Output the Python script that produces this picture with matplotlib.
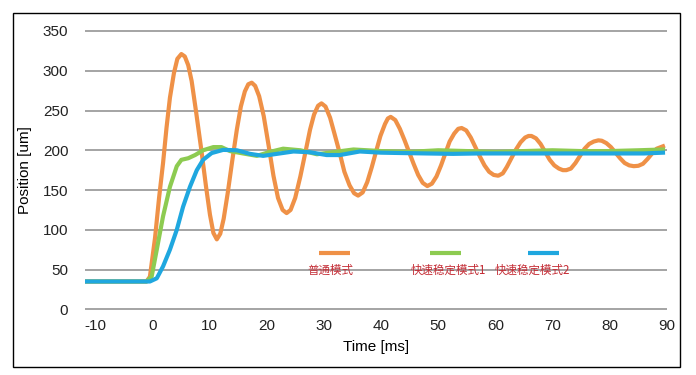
import matplotlib.pyplot as plt
from matplotlib.patches import Rectangle

# series (time in ms, position in um)
normal_t = [-11.75, -1.0, -0.4, 0.5, 1.2, 1.9, 2.5, 3.1, 3.8, 4.4, 5.1, 5.7, 6.3, 6.9, 7.7,
            8.6, 9.4, 10.1, 10.7, 11.3, 11.9, 12.5, 13.2, 14.0, 14.8, 15.5, 16.2, 16.8, 17.4,
            18.0, 18.7, 19.5, 20.4, 21.2, 22.0, 22.8, 23.5, 24.2, 25.0, 25.9, 26.8, 27.6,
            28.3, 29.0, 29.6, 30.3, 31.1, 31.9, 32.8, 33.6, 34.5, 35.3, 36.0, 36.8, 37.6,
            38.4, 39.2, 39.9, 40.7, 41.2, 41.7, 42.5, 43.3, 44.1, 44.9, 45.7, 46.5, 47.3,
            48.1, 48.9, 49.7, 50.5, 51.3, 52.0, 52.8, 53.5, 54.1, 54.9, 55.7, 56.5, 57.3,
            58.1, 58.9, 59.7, 60.5, 61.3, 62.0, 62.8, 63.6, 64.4, 65.2, 65.8, 66.3, 67.1,
            67.9, 68.7, 69.5, 70.3, 71.1, 71.8, 72.4, 73.2, 74.0, 74.8, 75.6, 76.4, 77.2,
            78.0, 78.6, 79.4, 80.2, 81.0, 81.8, 82.6, 83.4, 84.2, 85.0, 85.8, 86.6, 87.4,
            88.2, 89.3]
normal_y = [35, 35, 41, 90, 140, 184, 228, 266, 297, 315, 321, 318, 307, 287, 247,
            200, 155, 119, 96, 88, 95, 114, 146, 187, 226, 255, 274, 283, 285,
            281, 268, 243, 204, 168, 140, 125, 121, 125, 140, 167, 198, 226,
            245, 256, 259, 255, 241, 220, 196, 173, 156, 146, 143, 147, 160,
            179, 200, 218, 233, 240, 242, 238, 227, 213, 198, 183, 169, 159,
            155, 158, 167, 181, 197, 211, 221, 227, 228, 225, 216, 204, 192,
            181, 173, 169, 168, 171, 179, 190, 201, 210, 216, 218, 218, 215,
            208, 198, 188, 181, 177, 175, 175, 177, 184, 193, 202, 208, 211,
            212.5, 212, 209, 204, 197, 190, 184, 181, 180, 180.5, 183, 189, 196,
            202, 205]

fast1_t = [-11.75, -1.0, -0.1, 0.8, 1.9, 3.1, 4.3, 5.1, 6.3, 7.5, 8.9, 10.7, 12.1, 13.6,
           15.9, 18.3, 20.6, 22.9, 25.9, 28.8, 32.0, 35.2, 40.0, 45.0, 50.0, 55.0, 60.0,
           65.0, 70.0, 75.0, 80.0, 85.0, 89.3]
fast1_y = [35, 35, 41, 75, 117, 154, 180, 188, 190, 194, 200, 204, 204, 199,
           196, 193, 198, 202, 200, 195, 198, 201, 199, 198, 200, 199, 198,
           199, 200, 199, 199, 200, 201]

fast2_t = [-11.75, -0.4, 0.8, 1.9, 3.1, 4.3, 5.4, 6.6, 7.8, 8.9, 10.4, 12.4, 14.8, 17.1,
           19.4, 21.8, 24.7, 27.6, 30.5, 32.8, 36.3, 40.0, 43.8, 48.0, 52.6, 57.0, 62.0,
           67.0, 72.0, 77.0, 82.0, 86.0, 89.3]
fast2_y = [35, 35, 39, 54, 75, 100, 129, 154, 175, 188, 196.5, 200.5, 200, 195.5,
           193, 195.5, 198.5, 197.5, 194, 194, 198.5, 197, 196.5, 196, 195.5, 196, 196,
           196, 196, 196, 196, 196, 197]

x_ticks = list(range(-10, 91, 10))
y_ticks = list(range(0, 351, 50))

ORANGE = '#ef9147'
GREEN = '#8dcb51'
BLUE = '#1fa7df'
RED_TXT = '#c42b34'

plt.rcParams['font.family'] = ['Liberation Sans', 'DejaVu Sans']

fig = plt.figure(figsize=(6.96, 3.75), dpi=100)
ax = fig.add_axes([0.1221, 0.1688, 0.8362, 0.7549])

# outer frame around the whole chart
fig.patches.append(Rectangle((0.0187, 0.0213), 0.9583, 0.944, transform=fig.transFigure,
                             fill=False, edgecolor='black', linewidth=1.0))

ax.set_xlim(-11.75, 90)
ax.set_ylim(-3, 353)
ax.set_xticks(x_ticks)
ax.set_yticks(y_ticks)
ax.set_xticklabels([str(v) for v in x_ticks])
ax.tick_params(axis='both', length=0, labelsize=11, colors='#222222')
ax.tick_params(axis='x', pad=5)
ax.tick_params(axis='y', pad=12)
for s in ax.spines.values():
    s.set_visible(False)
ax.grid(axis='y', color='#8c8c8c', linewidth=1.1)
ax.set_axisbelow(True)

ax.plot(normal_t, normal_y, color=ORANGE, linewidth=3, solid_joinstyle='round')
ax.plot(fast1_t, fast1_y, color=GREEN, linewidth=3, solid_joinstyle='round')
ax.plot(fast2_t, fast2_y, color=BLUE, linewidth=3, solid_joinstyle='round')

ax.set_xlabel('Time [ms]', fontsize=11, labelpad=5)
ax.set_ylabel('Position [um]', fontsize=11, labelpad=8)

# hand placed legend: sample line with label under it
legend_items = [('普通模式', ORANGE, 0.402, 0.455, 0.421),
                ('快速稳定模式1', GREEN, 0.593, 0.646, 0.624),
                ('快速稳定模式2', BLUE, 0.761, 0.814, 0.768)]
for name, col, x0, x1, xt in legend_items:
    ax.plot([x0, x1], [0.207, 0.207], transform=ax.transAxes, color=col,
            linewidth=3, solid_capstyle='butt')
    ax.text(xt, 0.147, name, transform=ax.transAxes, ha='center', va='center',
            fontsize=8.3, color=RED_TXT, family=['Noto Sans CJK SC', 'DejaVu Sans'])

fig.savefig('out.png', dpi=100)
